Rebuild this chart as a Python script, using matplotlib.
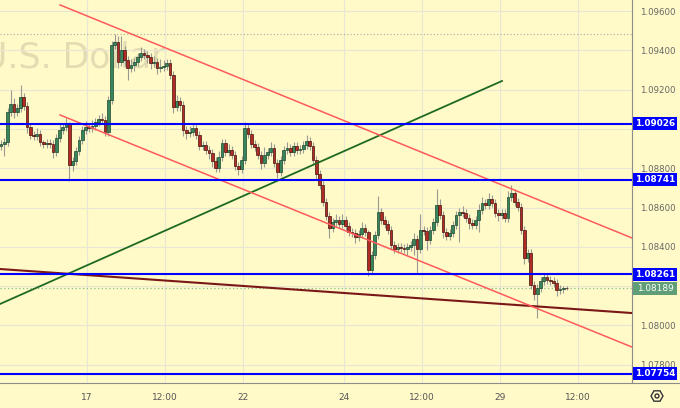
import matplotlib

matplotlib.use("Agg")
import matplotlib.patches as mpatches  # noqa: E402
import matplotlib.pyplot as plt  # noqa: E402
import matplotlib.transforms as mtransforms  # noqa: E402
import numpy as np  # noqa: E402

# 30-minute EURUSD candles, closes (open = previous close)
first_open = 1.08913
closes = [
    1.08923, 1.08933, 1.09086, 1.09127, 1.09086, 1.09106, 1.09162, 1.09116, 1.09010, 1.08969,
    1.08964, 1.08974, 1.08933, 1.08923, 1.08928, 1.08923, 1.08882, 1.08954, 1.08994, 1.09010,
    1.09025, 1.08816, 1.08837, 1.08888, 1.08944, 1.08994, 1.09010, 1.09004, 1.09015, 1.09035,
    1.09050, 1.09045, 1.08984, 1.09147, 1.09427, 1.09442, 1.09340, 1.09402, 1.09351, 1.09310,
    1.09325, 1.09340, 1.09366, 1.09386, 1.09376, 1.09366, 1.09335, 1.09340, 1.09310, 1.09315,
    1.09320, 1.09335, 1.09274, 1.09111, 1.09142, 1.09122, 1.08994, 1.08979, 1.08984, 1.09004,
    1.08969, 1.08913, 1.08918, 1.08893, 1.08877, 1.08837, 1.08801, 1.08857, 1.08928, 1.08882,
    1.08893, 1.08867, 1.08811, 1.08796, 1.08842, 1.09004, 1.08974, 1.08923, 1.08908, 1.08867,
    1.08826, 1.08867, 1.08882, 1.08903, 1.08826, 1.08781, 1.08842, 1.08893, 1.08903, 1.08882,
    1.08913, 1.08893, 1.08898, 1.08918, 1.08938, 1.08913, 1.08842, 1.08770, 1.08714, 1.08628,
    1.08557, 1.08496, 1.08526, 1.08536, 1.08516, 1.08536, 1.08506, 1.08475, 1.08470, 1.08450,
    1.08465, 1.08496, 1.08475, 1.08282, 1.08358, 1.08460, 1.08577, 1.08536, 1.08516, 1.08485,
    1.08409, 1.08388, 1.08399, 1.08393, 1.08388, 1.08399, 1.08409, 1.08439, 1.08388, 1.08485,
    1.08480, 1.08434, 1.08485, 1.08526, 1.08612, 1.08562, 1.08475, 1.08455, 1.08470, 1.08511,
    1.08562, 1.08577, 1.08572, 1.08546, 1.08521, 1.08511, 1.08536, 1.08587, 1.08623, 1.08612,
    1.08643, 1.08623, 1.08572, 1.08562, 1.08572, 1.08546, 1.08653, 1.08674, 1.08628, 1.08602,
    1.08485, 1.08343, 1.08368, 1.08205, 1.08160, 1.08190, 1.08226, 1.08246, 1.08231, 1.08226,
    1.08216, 1.08180, 1.08185, 1.08190, 1.08189,
]
# wick lengths beyond the body, in pips
upper_wick_pips = [
    2, 2, 2, 7, 3, 2, 6, 2, 2, 2,
    2, 3, 2, 1, 2, 2, 2, 2, 3, 2,
    3, 1, 2, 2, 2, 2, 3, 2, 3, 2,
    2, 3, 2, 2, 2, 4, 3, 7, 2, 2,
    3, 2, 2, 3, 2, 2, 2, 3, 2, 4,
    3, 2, 2, 2, 3, 2, 2, 2, 3, 2,
    2, 2, 2, 2, 2, 2, 2, 3, 2, 2,
    3, 2, 2, 2, 2, 3, 2, 2, 2, 2,
    2, 4, 2, 3, 2, 2, 2, 2, 3, 2,
    2, 2, 2, 2, 3, 2, 2, 2, 2, 2,
    2, 2, 2, 3, 2, 3, 2, 2, 2, 2,
    2, 3, 2, 1, 2, 2, 8, 2, 2, 2,
    2, 2, 2, 2, 2, 2, 2, 3, 2, 8,
    2, 2, 2, 2, 8, 3, 2, 2, 2, 2,
    2, 2, 3, 2, 2, 2, 2, 3, 3, 2,
    3, 2, 2, 2, 2, 2, 3, 4, 2, 2,
    2, 2, 2, 2, 2, 2, 2, 2, 2, 2,
    2, 2, 2, 1, 1,
]
lower_wick_pips = [
    2, 6, 2, 2, 3, 2, 2, 2, 3, 2,
    2, 2, 2, 2, 2, 2, 3, 2, 2, 2,
    2, 8, 3, 2, 2, 2, 2, 2, 2, 2,
    2, 2, 2, 2, 2, 2, 3, 2, 3, 6,
    2, 3, 2, 2, 2, 3, 3, 2, 3, 2,
    2, 2, 2, 3, 2, 3, 3, 3, 2, 2,
    2, 2, 2, 2, 3, 3, 2, 2, 2, 2,
    2, 2, 2, 3, 2, 2, 2, 2, 2, 2,
    3, 2, 2, 2, 2, 3, 2, 2, 2, 2,
    2, 2, 2, 2, 2, 2, 2, 3, 2, 2,
    2, 5, 2, 2, 2, 2, 2, 2, 2, 3,
    2, 2, 2, 3, 2, 2, 2, 2, 2, 2,
    2, 2, 2, 2, 2, 3, 2, 5, 12, 2,
    2, 5, 2, 2, 2, 2, 3, 2, 2, 2,
    2, 14, 2, 2, 3, 2, 2, 6, 2, 2,
    2, 2, 2, 3, 2, 2, 2, 2, 2, 2,
    2, 3, 2, 2, 3, 12, 2, 2, 2, 2,
    2, 3, 2, 2, 1,
]

level_prices = [1.09026, 1.08741, 1.08261, 1.07754]
last_price = 1.08189
session_high = 1.09483

# drawn trend lines: candle index pairs and price pairs
channel_top_x, channel_top_y = [18.15, 194.15], [1.09631, 1.08445]
channel_bottom_x, channel_bottom_y = [18.15, 194.15], [1.09071, 1.07890]
green_line_x, green_line_y = [-0.31, 154.15], [1.08109, 1.09244]
maroon_line_x, maroon_line_y = [-0.31, 194.15], [1.08287, 1.08063]

x_tick_pos = [26.5, 50.5, 74.5, 105.5, 129.5, 153.5, 177.5]
x_tick_labels = ["17", "12:00", "22", "24", "12:00", "29", "12:00"]
y_ticks = [1.078, 1.080, 1.082, 1.084, 1.086, 1.088, 1.090, 1.092, 1.094, 1.096]
# 1.09000 and 1.08200 sit under the price badges in the reference
y_tick_labels = ["1.07800", "1.08000", "", "1.08400", "1.08600", "1.08800", "",
                 "1.09200", "1.09400", "1.09600"]

BG = "#fffac8"
W, H = 680, 408
AX_W, AX_H = 632, 383
X_RANGE = (-0.31, 194.15)
Y_RANGE = (1.07707, 1.09656)

fig = plt.figure(figsize=(W / 100, H / 100), dpi=100, facecolor=BG)
ax = fig.add_axes([0, (H - AX_H) / H, AX_W / W, AX_H / H])
ax.set_facecolor(BG)
ax.set_xlim(*X_RANGE)
ax.set_ylim(*Y_RANGE)

ax.text(-5.85, 1.09310, "U.S. Dollar", fontsize=25, color="#e3dcb3",
        va="baseline", ha="left", zorder=0.5, clip_on=True)

c = np.array(closes)
o = np.concatenate([[first_open], c[:-1]])
hi = np.maximum(o, c) + np.array(upper_wick_pips) * 1e-4
lo = np.minimum(o, c) - np.array(lower_wick_pips) * 1e-4
idx = np.arange(len(c))
up = c >= o
ax.vlines(idx, lo, hi, color="#9a9a92", linewidth=0.8, zorder=3)
body = np.maximum(np.abs(c - o), 0.00003)
ax.bar(idx[up], body[up], bottom=o[up], width=0.82, color="#37855a",
       edgecolor="#1c4630", linewidth=0.5, zorder=4)
ax.bar(idx[~up], body[~up], bottom=c[~up], width=0.82, color="#b02c24",
       edgecolor="#45120e", linewidth=0.5, zorder=4)

ax.axhline(session_high, color="#a8a8a0", linestyle=(0, (1, 2)), linewidth=0.8, zorder=2)
ax.axhline(last_price, color="#7fc08e", linestyle=(0, (1, 2)), linewidth=0.9, zorder=2)

ax.plot(green_line_x, green_line_y, color="#1e6a22", linewidth=1.3, zorder=5)
ax.plot(maroon_line_x, maroon_line_y, color="#7a1818", linewidth=1.5, zorder=5)
ax.plot(channel_top_x, channel_top_y, color="#ff5a5a", linewidth=1.1, zorder=5)
ax.plot(channel_bottom_x, channel_bottom_y, color="#ff5a5a", linewidth=1.1, zorder=5)
for price in level_prices:
    ax.axhline(price, color="#0000ff", linewidth=1.5, zorder=6)

ax.set_xticks(x_tick_pos, x_tick_labels)
ax.yaxis.tick_right()
ax.set_yticks(y_ticks, y_tick_labels)
ax.tick_params(axis="x", length=0, pad=7, labelsize=6.5, labelcolor="#555555")
ax.tick_params(axis="y", length=0, pad=6, labelsize=6.2, labelcolor="#666666")
ax.grid(color="#e9e6d4", linewidth=0.8)
ax.set_axisbelow(True)
for side in ("top", "left", "bottom"):
    ax.spines[side].set_visible(False)
ax.spines["right"].set_color("#8c8c8c")
ax.spines["right"].set_linewidth(0.8)

# time axis separator runs under the price scale too
fig.add_artist(plt.Line2D([0, 1], [(H - AX_H) / H] * 2, color="#8c8c8c",
                          linewidth=0.8, transform=fig.transFigure))

# price scale badges
trans = mtransforms.blended_transform_factory(ax.transAxes, ax.transData)
box_h = 13 * (Y_RANGE[1] - Y_RANGE[0]) / AX_H
box_w = 44 / AX_W
badges = [(p, "#0000ff", True) for p in level_prices] + [(last_price, "#5f9e77", False)]
for price, color, bold in badges:
    ax.add_patch(mpatches.Rectangle((1.0016, price - box_h / 2), box_w, box_h,
                                    transform=trans, facecolor=color,
                                    edgecolor="none", clip_on=False, zorder=10))
    ax.text(1.0016 + box_w / 2, price, f"{price:.5f}", transform=trans,
            ha="center", va="center", color="white", fontsize=6.4,
            fontweight="bold" if bold else "normal", clip_on=False, zorder=11)

# settings icon in the corner
ident = mtransforms.IdentityTransform()
fig.add_artist(mpatches.RegularPolygon((657, 12), numVertices=6, radius=6,
                                       orientation=np.pi / 6, transform=ident,
                                       facecolor="none", edgecolor="#333333",
                                       linewidth=1.0))
fig.add_artist(mpatches.Circle((657, 12), radius=2, transform=ident,
                               facecolor="none", edgecolor="#333333", linewidth=1.0))

fig.savefig("out.png", dpi=100, facecolor=BG)
